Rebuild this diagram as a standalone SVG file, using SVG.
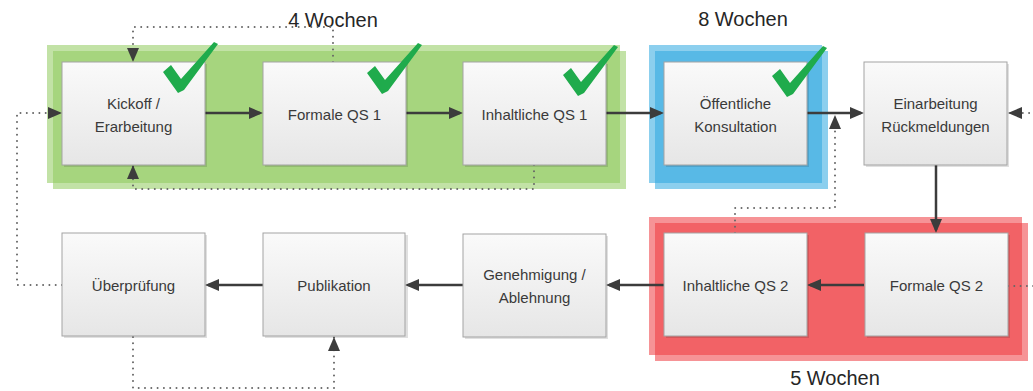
<svg xmlns="http://www.w3.org/2000/svg" width="1033" height="391" viewBox="0 0 1033 391">
<style>
.box{fill:url(#boxg);stroke:#a3a3a3;stroke-width:1}
.shadow{fill:#000;fill-opacity:0.12}
.lbl{font-family:"Liberation Sans",Arial,sans-serif;font-size:15px;fill:#3a3a3a;text-anchor:middle}
.hdr{font-family:"Liberation Sans",Arial,sans-serif;font-size:20px;fill:#262626;text-anchor:middle}
.solid{fill:none;stroke:#3c3c3c;stroke-width:2.5;marker-end:url(#ah)}
.dota{fill:none;stroke:#666;stroke-width:2;stroke-dasharray:0 6.3;stroke-linecap:round;marker-end:url(#ahd)}
.check{fill:#1fab4c}
</style>
<defs>
<linearGradient id="boxg" x1="0" y1="0" x2="0" y2="1">
<stop offset="0" stop-color="#fafafa"/>
<stop offset="1" stop-color="#e6e6e6"/>
</linearGradient>
<marker id="ah" viewBox="0 0 14 12" refX="11" refY="6" markerWidth="14" markerHeight="12" markerUnits="userSpaceOnUse" orient="auto">
<path d="M0,0 L14,6 L0,12 z" fill="#3c3c3c"/>
</marker>
<marker id="ahd" viewBox="0 0 14 12" refX="14" refY="6" markerWidth="14" markerHeight="12" markerUnits="userSpaceOnUse" orient="auto">
<path d="M0,0 L14,6 L0,12 z" fill="#3c3c3c"/>
</marker>
<path id="chk" d="M-15,-20 L-7,-27 L3,-13 L36,-50 L40,-48 L6,-2 L0,1 Z"/>
</defs>
<rect width="1033" height="391" fill="#ffffff"/>

<g id="phase-green">
<rect x="47" y="45" width="573" height="138" fill="#8fcb5c" fill-opacity="0.55"/>
<rect x="53" y="51" width="573" height="138" fill="#8fcb5c" fill-opacity="0.55"/>
</g>
<g id="phase-blue">
<rect x="649" y="45" width="173" height="138" fill="#2ea8e0" fill-opacity="0.55"/>
<rect x="655" y="51" width="173" height="138" fill="#2ea8e0" fill-opacity="0.55"/>
</g>
<g id="phase-red">
<rect x="649" y="217" width="373" height="138" fill="#ef3a3f" fill-opacity="0.55"/>
<rect x="655" y="223" width="373" height="138" fill="#ef3a3f" fill-opacity="0.55"/>
</g>

<g id="labels">
<text class="hdr" x="333" y="27">4 Wochen</text>
<text class="hdr" x="743" y="26">8 Wochen</text>
<text class="hdr" x="835" y="385">5 Wochen</text>
</g>

<g id="connectors">
<path class="solid" d="M205,113 H260"/>
<path class="solid" d="M405,113 H460"/>
<path class="solid" d="M606,113 H661"/>
<path class="solid" d="M807,113 H861"/>
<path class="solid" d="M936,165 V230"/>
<path class="solid" d="M864,285 H810"/>
<path class="solid" d="M664,285 H609"/>
<path class="solid" d="M463,285 H408"/>
<path class="solid" d="M263,285 H208"/>
<path class="dota" d="M333,62 V27 H133 V62"/>
<path class="dota" d="M534,165 V189 H133 V165"/>
<path class="dota" d="M62,285 H17 V113 H62"/>
<path class="dota" d="M133,337 V388 H334 V337"/>
<path class="dota" d="M735,233 V208 H835 V115"/>
<path class="dota" d="M1008,286 H1036 V113 H1008"/>
</g>

<g id="n-kickoff">
<rect class="shadow" x="64" y="64" width="143" height="103"/>
<rect class="box" x="62" y="62" width="143" height="103"/>
<text class="lbl" x="133.5" y="109">Kickoff /</text>
<text class="lbl" x="133.5" y="132">Erarbeitung</text>
</g>
<g id="n-formale-qs1">
<rect class="shadow" x="265" y="64" width="143" height="103"/>
<rect class="box" x="263" y="62" width="143" height="103"/>
<text class="lbl" x="334.5" y="120">Formale QS 1</text>
</g>
<g id="n-inhaltliche-qs1">
<rect class="shadow" x="465" y="64" width="143" height="103"/>
<rect class="box" x="463" y="62" width="143" height="103"/>
<text class="lbl" x="534.5" y="120">Inhaltliche QS 1</text>
</g>
<g id="n-konsultation">
<rect class="shadow" x="666" y="64" width="143" height="103"/>
<rect class="box" x="664" y="62" width="143" height="103"/>
<text class="lbl" x="735.5" y="109">Öffentliche</text>
<text class="lbl" x="735.5" y="132">Konsultation</text>
</g>
<g id="n-einarbeitung">
<rect class="shadow" x="866" y="64" width="143" height="103"/>
<rect class="box" x="864" y="62" width="143" height="103"/>
<text class="lbl" x="935.5" y="109">Einarbeitung</text>
<text class="lbl" x="935.5" y="132">Rückmeldungen</text>
</g>
<g id="n-formale-qs2">
<rect class="shadow" x="867" y="235" width="143" height="103"/>
<rect class="box" x="865" y="233" width="143" height="103"/>
<text class="lbl" x="936.5" y="291">Formale QS 2</text>
</g>
<g id="n-inhaltliche-qs2">
<rect class="shadow" x="666" y="235" width="143" height="103"/>
<rect class="box" x="664" y="233" width="143" height="103"/>
<text class="lbl" x="735.5" y="291">Inhaltliche QS 2</text>
</g>
<g id="n-genehmigung">
<rect class="shadow" x="465" y="236" width="143" height="103"/>
<rect class="box" x="463" y="234" width="143" height="103"/>
<text class="lbl" x="534.5" y="280">Genehmigung /</text>
<text class="lbl" x="534.5" y="303">Ablehnung</text>
</g>
<g id="n-publikation">
<rect class="shadow" x="265" y="235" width="143" height="103"/>
<rect class="box" x="263" y="233" width="142" height="103"/>
<text class="lbl" x="334" y="291">Publikation</text>
</g>
<g id="n-ueberpruefung">
<rect class="shadow" x="64" y="235" width="143" height="103"/>
<rect class="box" x="62" y="233" width="143" height="103"/>
<text class="lbl" x="133.5" y="291">Überprüfung</text>
</g>

<g id="checks">
<use href="#chk" class="check" x="178" y="92"/>
<use href="#chk" class="check" x="382" y="93"/>
<use href="#chk" class="check" x="578" y="95"/>
<use href="#chk" class="check" x="787" y="96"/>
</g>
</svg>
